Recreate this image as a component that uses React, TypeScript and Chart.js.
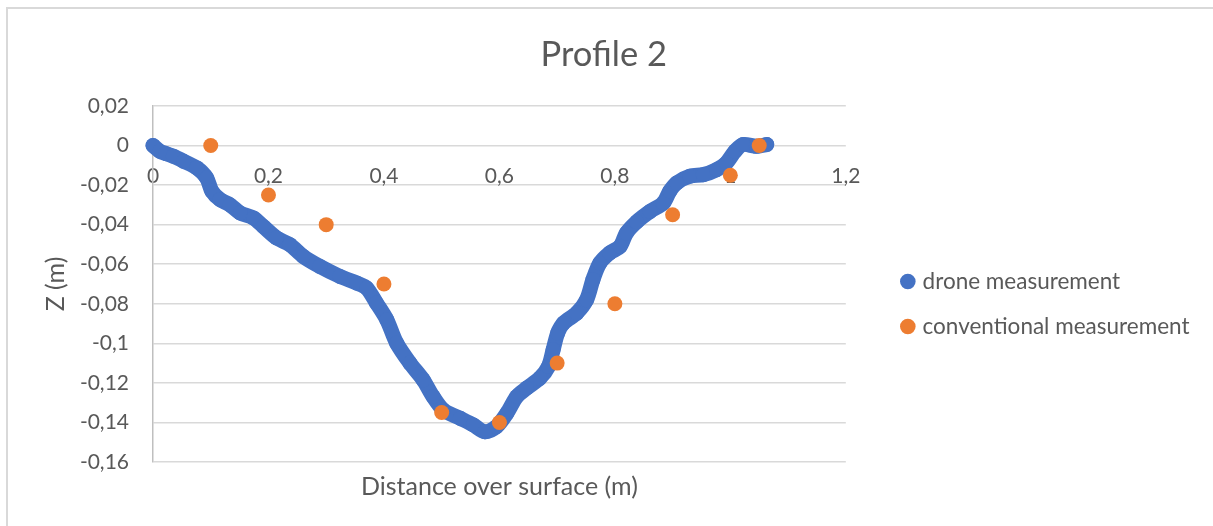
import React, { useEffect, useRef } from 'react';
import { Chart, registerables } from 'chart.js';

Chart.register(...registerables);

const chartTitle = 'Profile 2';
const xAxisTitle = 'Distance over surface (m)';
const yAxisTitle = 'Z (m)';
const droneLabel = 'drone measurement';
const conventionalLabel = 'conventional measurement';

const droneX = [0, 0.012, 0.023, 0.035, 0.053, 0.076, 0.093, 0.102, 0.116, 0.133, 0.151, 0.174, 0.191, 0.214, 0.237, 0.26, 0.289, 0.324, 0.353, 0.37, 0.387, 0.405, 0.422, 0.445, 0.468, 0.485, 0.503, 0.532, 0.555, 0.575, 0.595, 0.613, 0.63, 0.647, 0.67, 0.685, 0.693, 0.701, 0.711, 0.734, 0.751, 0.762, 0.774, 0.791, 0.809, 0.82, 0.838, 0.861, 0.884, 0.895, 0.907, 0.93, 0.953, 0.976, 0.993, 1.008, 1.022, 1.045, 1.063];
const droneZ = [0, -0.0029, -0.0041, -0.0054, -0.0079, -0.0113, -0.0164, -0.0231, -0.0273, -0.0299, -0.0341, -0.0366, -0.0409, -0.0467, -0.0501, -0.056, -0.0611, -0.0662, -0.0695, -0.072, -0.0796, -0.0881, -0.0999, -0.11, -0.1185, -0.1269, -0.1337, -0.1379, -0.1413, -0.1447, -0.1421, -0.1353, -0.1269, -0.1227, -0.1176, -0.1117, -0.1033, -0.0947, -0.0898, -0.0847, -0.078, -0.0678, -0.0594, -0.0543, -0.051, -0.0442, -0.0385, -0.0333, -0.029, -0.0231, -0.0189, -0.0155, -0.0147, -0.0122, -0.0088, -0.0029, 0.0005, -0.0004, 0.0005];

const convX = [0.1, 0.2, 0.3, 0.4, 0.5, 0.6, 0.7, 0.8, 0.9, 1.0, 1.05];
const convZ = [0, -0.025, -0.04, -0.07, -0.135, -0.14, -0.11, -0.08, -0.035, -0.015, 0];

const xMin = 0;
const xMax = 1.2;
const xStep = 0.2;
const yMin = -0.16;
const yMax = 0.02;
const yStep = 0.02;

const TEXT = '#595959';
const BLUE = '#4472C4';
const ORANGE = '#ED7D31';

const fmt = (v: number | string) => String(Math.round(Number(v) * 1000) / 1000).replace('.', ',');

export default function App() {
  const ref = useRef<HTMLCanvasElement>(null);

  useEffect(() => {
    if (!ref.current) return;
    Chart.defaults.font.family = 'Lato';
    const chart = new Chart(ref.current, {
      type: 'scatter',
      data: {
        datasets: [
          {
            label: droneLabel,
            data: droneX.map((x, i) => ({ x, y: droneZ[i] })),
            xAxisID: 'x',
            yAxisID: 'y',
            showLine: true,
            borderColor: BLUE,
            backgroundColor: BLUE,
            borderWidth: 15,
            borderCapStyle: 'round',
            borderJoinStyle: 'round',
            tension: 0.3,
            pointRadius: 7.5,
            pointBorderWidth: 0,
            pointHoverRadius: 7.5,
            order: 1,
            clip: 12,
          } as any,
          {
            label: conventionalLabel,
            data: convX.map((x, i) => ({ x, y: convZ[i] })),
            xAxisID: 'x',
            yAxisID: 'y',
            showLine: false,
            borderColor: ORANGE,
            backgroundColor: ORANGE,
            pointRadius: 7.5,
            pointBorderWidth: 0,
            pointHoverRadius: 7.5,
            order: 0,
            clip: 12,
          } as any,
        ],
      },
      options: {
        responsive: false,
        animation: false,
        events: [],
        layout: { padding: { left: 8, right: 13.5, top: 0, bottom: 20 } },
        plugins: {
          title: {
            display: true,
            text: chartTitle,
            color: TEXT,
            font: { size: 34.5, weight: 'normal' },
            padding: { top: 34, bottom: 30.6 },
          },
          legend: {
            position: 'right',
            fullSize: false,
            maxWidth: 340,
            title: { display: true, text: ' ', padding: 8, font: { size: 20 } },
            labels: {
              usePointStyle: true,
              boxWidth: 7,
              boxHeight: 11,
              padding: 22.5,
              color: TEXT,
              font: { size: 22.5 },
              sort: (a: any, b: any) => a.datasetIndex - b.datasetIndex,
              generateLabels: (c: any) =>
                (Chart.defaults.plugins.legend.labels as any)
                  .generateLabels(c)
                  .map((l: any) => ({ ...l, lineWidth: 0, strokeStyle: 'rgba(0,0,0,0)' })),
            },
          } as any,
          tooltip: { enabled: false },
        },
        scales: {
          x: {
            type: 'linear',
            position: { y: 0 } as any,
            min: xMin,
            max: xMax,
            afterFit: (s: any) => {
              s.height = 0;
            },
            grid: { display: false, drawTicks: false },
            border: { display: false },
            ticks: {
              stepSize: xStep,
              padding: 18,
              color: TEXT,
              font: { size: 21 },
              maxRotation: 0,
              autoSkip: false,
              callback: fmt,
            },
          },
          y: {
            type: 'linear',
            position: 'left',
            min: yMin,
            max: yMax,
            afterFit: (s: any) => {
              s.width = 145;
            },
            grid: { color: '#d9d9d9', lineWidth: 1.5, drawTicks: false },
            border: { display: true, color: '#bfbfbf', width: 1.5 },
            ticks: { stepSize: yStep, padding: 24, color: TEXT, font: { size: 21 }, callback: fmt },
            title: {
              display: true,
              text: yAxisTitle,
              color: TEXT,
              font: { size: 25 },
              padding: { top: 33, bottom: 0 },
            },
          },
          x2: {
            type: 'linear',
            position: 'bottom',
            min: xMin,
            max: xMax,
            grid: { display: false, drawTicks: false },
            border: { display: false },
            ticks: { display: false },
            title: {
              display: true,
              text: xAxisTitle,
              color: TEXT,
              font: { size: 25 },
              padding: { top: 10, bottom: 4 },
            },
          },
          yPad: {
            type: 'linear',
            position: 'right',
            min: 0,
            max: 1,
            grid: { display: false, drawTicks: false },
            border: { display: false },
            ticks: { display: false },
            afterFit: (s: any) => {
              s.width = 36;
            },
          },
        } as any,
      },
    });
    let alive = true;
    if ((document as any).fonts) {
      (document as any).fonts.load('22px Lato').then(() => {
        if (alive) chart.update();
      });
    }
    return () => {
      alive = false;
      chart.destroy();
    };
  }, []);

  return (
    <div>
      <div style={{ position: 'fixed', left: 0, top: 0, width: 1213, height: 526, background: '#fff' }}>
        <canvas ref={ref} width={1213} height={526} style={{ display: 'block' }} />
      </div>
      <div
        style={{
          position: 'fixed',
          left: 6,
          top: 7,
          width: 1240,
          height: 560,
          borderLeft: '2px solid #d9d9d9',
          borderTop: '2px solid #d9d9d9',
          pointerEvents: 'none',
        }}
      />
    </div>
  );
}
